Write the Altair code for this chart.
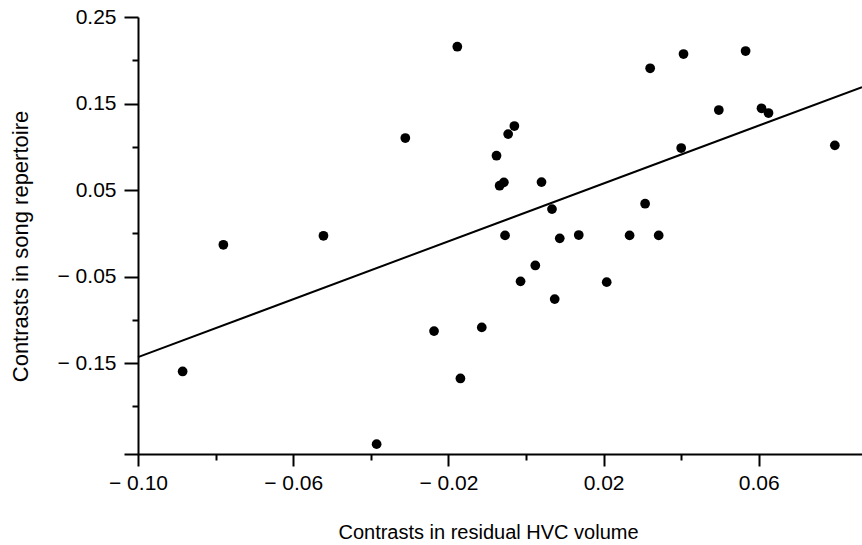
import altair as alt
import pandas as pd

# Data
x_vals = [-0.0885, -0.0780, -0.0522, -0.0311, -0.0385, -0.0237, -0.0177, -0.0030,
          -0.0046, -0.0076, -0.0057, -0.0068, 0.0040, 0.0067, -0.0054, 0.0087,
          0.0136, 0.0267, 0.0307, 0.0024, -0.0014, 0.0208, 0.0074, -0.0114,
          -0.0169, 0.0320, 0.0406, 0.0566, 0.0497, 0.0607, 0.0625, 0.0400,
          0.0796, 0.0342]
y_vals = [-0.1596, -0.0132, -0.0028, 0.1101, -0.2436, -0.1130, 0.2157, 0.1240,
          0.1147, 0.0897, 0.0589, 0.0550, 0.0592, 0.0280, -0.0024, -0.0058,
          -0.0020, -0.0024, 0.0342, -0.0371, -0.0555, -0.0564, -0.0760, -0.1087,
          -0.1677, 0.1907, 0.2072, 0.2107, 0.1425, 0.1445, 0.1390, 0.0986,
          0.1017, -0.0024]

# regression line endpoints
line_x = [-0.10, 0.0866]
line_y = [-0.143, 0.169]

x_major = [-0.10, -0.06, -0.02, 0.02, 0.06]
x_minor = [-0.08, -0.04, 0.00, 0.04]
y_major = [0.25, 0.15, 0.05, -0.05, -0.15, -0.255]
y_minor = [0.20, 0.10, 0.00, -0.10, -0.20]

X_DOMAIN = [-0.10, 0.0866]
Y_DOMAIN = [-0.255, 0.25]

FONT = "Liberation Sans"

df = pd.DataFrame({"x": x_vals, "y": y_vals})
df_line = pd.DataFrame({"x": line_x, "y": line_y})

label_expr = ("datum.value < -0.2 ? '' : (datum.value < -0.0001 ? '\u2212 ' + "
              "format(-datum.value, '.2f') : format(datum.value, '.2f'))")

xscale = alt.Scale(domain=X_DOMAIN, nice=False, zero=False)
yscale = alt.Scale(domain=Y_DOMAIN, nice=False, zero=False)

common = dict(grid=False, domainColor="black", tickColor="black",
              labelColor="black", titleColor="black", labelFont=FONT,
              titleFont=FONT, labelFontWeight="normal", titleFontWeight="normal",
              labelFlush=False, labelOverlap=False)

x_major_axis = alt.Axis(values=x_major, tickSize=12, tickWidth=2, domainWidth=2,
                        labelExpr=label_expr, labelFontSize=21, labelPadding=6,
                        title="Contrasts in residual HVC volume", titleFontSize=20,
                        titleX=350, titleY=84, titleBaseline="alphabetic",
                        titleAlign="center", orient="bottom", **common)
y_major_axis = alt.Axis(values=y_major, tickSize=14, tickWidth=2, domainWidth=2,
                        labelExpr=label_expr, labelFontSize=21, labelPadding=8,
                        title="Contrasts in song repertoire", titleFontSize=22,
                        titleX=-111, titleY=229, titleBaseline="alphabetic",
                        titleAlign="center", titleAngle=270, orient="left", **common)
x_minor_axis = alt.Axis(values=x_minor, tickSize=6, tickWidth=2, domain=False,
                        labels=False, title=None, orient="bottom", grid=False,
                        tickColor="black")
y_minor_axis = alt.Axis(values=y_minor, tickSize=6, tickWidth=2, domain=False,
                        labels=False, title=None, orient="left", grid=False,
                        tickColor="black")

line = alt.Chart(df_line).mark_line(color="black", strokeWidth=2).encode(
    x=alt.X("x:Q", scale=xscale, axis=x_minor_axis),
    y=alt.Y("y:Q", scale=yscale, axis=y_minor_axis),
)

points = alt.Chart(df).mark_circle(size=95, color="black", opacity=1).encode(
    x=alt.X("x:Q", scale=xscale, axis=x_major_axis),
    y=alt.Y("y:Q", scale=yscale, axis=y_major_axis),
)

chart = alt.layer(line, points).resolve_axis(
    x="independent", y="independent"
).properties(
    width=724, height=437,
    autosize=alt.AutoSizeParams(type="none"),
    padding={"left": 138, "top": 17, "right": 0, "bottom": 91},
    background="white",
).configure_view(strokeWidth=0)

chart.save("out.html", embed_options={"renderer": "svg", "actions": False})
